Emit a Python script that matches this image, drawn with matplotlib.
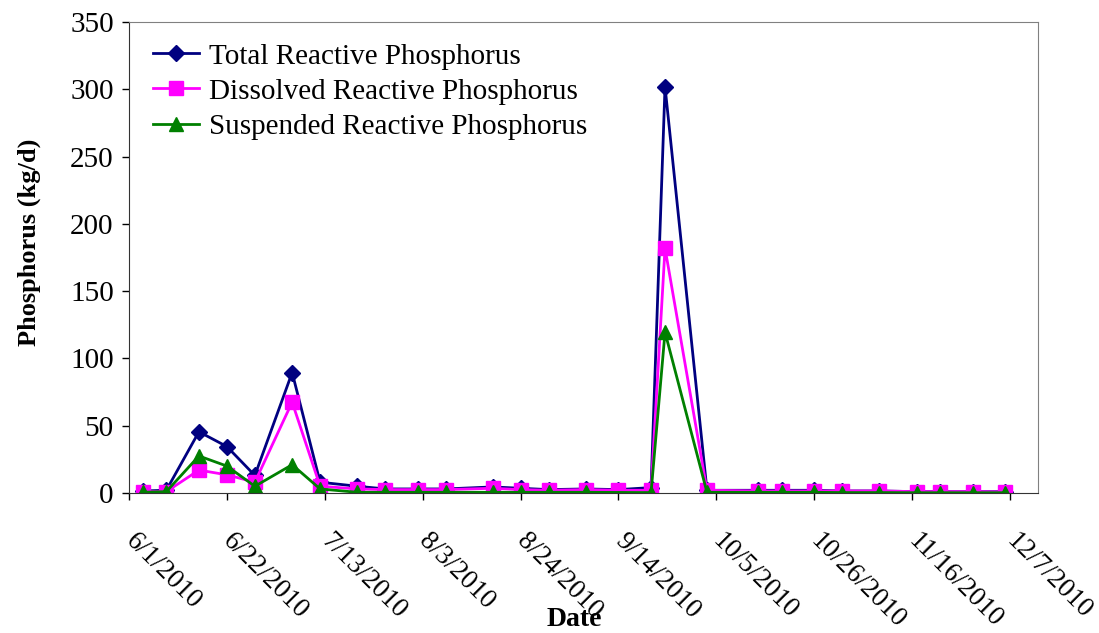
import matplotlib
matplotlib.use("Agg")
import matplotlib.pyplot as plt
import numpy as np

plt.rcParams["font.family"] = ["Liberation Serif", "DejaVu Serif"]

sample_dates = [
    "2010-06-04", "2010-06-09", "2010-06-16", "2010-06-22", "2010-06-28",
    "2010-07-06", "2010-07-12", "2010-07-20", "2010-07-26", "2010-08-02",
    "2010-08-08", "2010-08-18", "2010-08-24", "2010-08-30", "2010-09-07",
    "2010-09-14", "2010-09-21", "2010-09-24", "2010-10-03", "2010-10-14",
    "2010-10-19", "2010-10-26", "2010-11-01", "2010-11-09", "2010-11-17",
    "2010-11-22", "2010-11-29", "2010-12-06",
]
total_rp = [1.5, 2, 45.5, 34.5, 13, 89.5, 8, 5, 3, 3,
            3, 4.5, 3.5, 2.5, 3, 2.5, 4, 302, 2, 2,
            2, 2, 1.5, 1.5, 1, 1, 1, 1]
dissolved_rp = [1, 1, 17, 13.5, 8, 67.5, 5, 3, 2.5, 2.5,
                2.5, 3.5, 2.5, 2, 2.5, 2, 2, 182, 2, 1.5,
                1.5, 1.5, 1.5, 1.5, 1, 1, 1, 0.8]
suspended_rp = [0.5, 1, 27.5, 20, 5, 21, 3, 0.5, 0.5, 0.5,
                0.5, 0.5, 0.5, 0.5, 0.5, np.nan, 0.3, 119.5, 0.5, 0.5,
                0.5, 0.5, 0.3, 0.3, 0.2, 0.2, 0.2, 0.2]

tick_dates = ["2010-06-01", "2010-06-22", "2010-07-13", "2010-08-03", "2010-08-24",
              "2010-09-14", "2010-10-05", "2010-10-26", "2010-11-16", "2010-12-07"]
tick_labels = ["6/1/2010", "6/22/2010", "7/13/2010", "8/3/2010", "8/24/2010",
               "9/14/2010", "10/5/2010", "10/26/2010", "11/16/2010", "12/7/2010"]

dates = np.array(sample_dates, dtype="datetime64[D]")
susp = np.array(suspended_rp, dtype=float)
ok = ~np.isnan(susp)  # no suspended value on 9/14

fig = plt.figure(figsize=(10.99, 6.33), dpi=100)
ax = fig.add_axes([0.1174, 0.2212, 0.827, 0.744])

ax.plot(dates, total_rp, color="#000080", marker="D", markersize=8.5, lw=2,
        label="Total Reactive Phosphorus")
ax.plot(dates, dissolved_rp, color="#FF00FF", marker="s", markersize=9.5, lw=2,
        label="Dissolved Reactive Phosphorus")
ax.plot(dates[ok], susp[ok], color="#008000", marker="^", markersize=10, lw=2,
        label="Suspended Reactive Phosphorus")

ax.set_ylim(0, 350)
ax.set_yticks(np.arange(0, 351, 50))
ax.set_xlim(np.datetime64("2010-06-01"), np.datetime64("2010-12-13"))
ax.set_xticks(np.array(tick_dates, dtype="datetime64[D]"))
ax.set_xticklabels(tick_labels, rotation=-45, ha="left", va="center",
                   rotation_mode="anchor")

ax.tick_params(axis="both", direction="out", length=5, width=1)
ax.tick_params(axis="x", pad=27, labelsize=19.5)
ax.tick_params(axis="y", pad=6, labelsize=21)
for s in ["left", "bottom"]:
    ax.spines[s].set_color("#333333")
for s in ["top", "right"]:
    ax.spines[s].set_color("#808080")

ax.set_ylabel("Phosphorus (kg/d)", fontsize=19, fontweight="bold")
ax.yaxis.set_label_coords(-0.097, 0.533)
ax.set_xlabel("Date", fontsize=20, fontweight="bold")
ax.xaxis.set_label_coords(0.4895, -0.242)

ax.legend(loc="upper left", frameon=False, fontsize=21, handlelength=1.6,
          handletextpad=0.35, labelspacing=0.3, borderaxespad=0.0,
          bbox_to_anchor=(0.013, 0.98))

fig.savefig("out.png", dpi=100)
